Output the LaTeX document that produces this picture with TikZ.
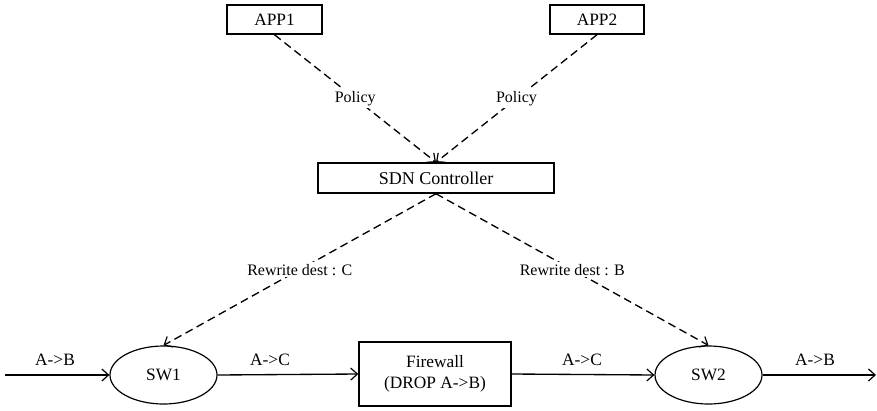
\documentclass[tikz,border=0pt]{standalone}
\usepackage{fontspec}
\setmainfont{Liberation Serif}
\newfontfamily\tmsfont{Liberation Serif}
\usetikzlibrary{arrows.meta,shapes.geometric}
\begin{document}
\begin{tikzpicture}[x=0.75pt,y=-0.75pt,
  font=\tmsfont\fontsize{13pt}{16pt}\selectfont,
  box/.style={draw,line width=1.1pt,inner sep=0pt,align=center},
  swnode/.style={draw,ellipse,line width=0.9pt,inner sep=0pt,minimum width=80.25pt,minimum height=43.5pt},
  flow/.style={line width=1pt,-{Straight Barb[length=5pt,width=9pt,line width=0.9pt]}},
  ctl/.style={line width=1pt,dash pattern=on 6pt off 3.5pt,-{Straight Barb[length=5pt,width=9pt,line width=0.9pt]}},
  lbl/.style={fill=white,inner sep=1.5pt,font=\tmsfont\fontsize{12pt}{14pt}\selectfont}]
\useasboundingbox (0,0) rectangle (877,410);
\node[box,minimum width=71.25pt,minimum height=21.75pt] (app1) at (274.5,19.5) {APP1};
\node[box,minimum width=70.5pt,minimum height=21.75pt] (app2) at (597,19.5) {APP2};
\node[box,minimum width=177pt,minimum height=22.5pt,font=\tmsfont\fontsize{13.5pt}{16pt}\selectfont] (ctrl) at (436,178) {SDN Controller};
\node[box,minimum width=114pt,minimum height=48pt] (fw) at (435,374) {Firewall\\(DROP A->B)};
\node[swnode] (sw1) at (163.5,375) {SW1};
\node[swnode] (sw2) at (708.5,375) {SW2};
\coordinate (in) at (5,375);
\coordinate (out) at (876,375);

\draw[ctl] (app1.south) -- node[lbl,pos=0.5] {Policy} (ctrl.north);
\draw[ctl] (app2.south) -- node[lbl,pos=0.5] {Policy} (ctrl.north);
\draw[ctl] (ctrl.south) -- node[lbl,pos=0.5] {Rewrite dest : C} (sw1.north);
\draw[ctl] (ctrl.south) -- node[lbl,pos=0.5] {Rewrite dest : B} (sw2.north);

\draw[flow] (in) -- (sw1.west);
\draw[flow] (sw1.east) -- (fw.west);
\draw[flow] (fw.east) -- (sw2.west);
\draw[flow] (sw2.east) -- (out);

\node (l1) at (55,360) {A->B};
\node (l2) at (270,360) {A->C};
\node (l3) at (582,360) {A->C};
\node (l4) at (815,360) {A->B};
\end{tikzpicture}
\end{document}
